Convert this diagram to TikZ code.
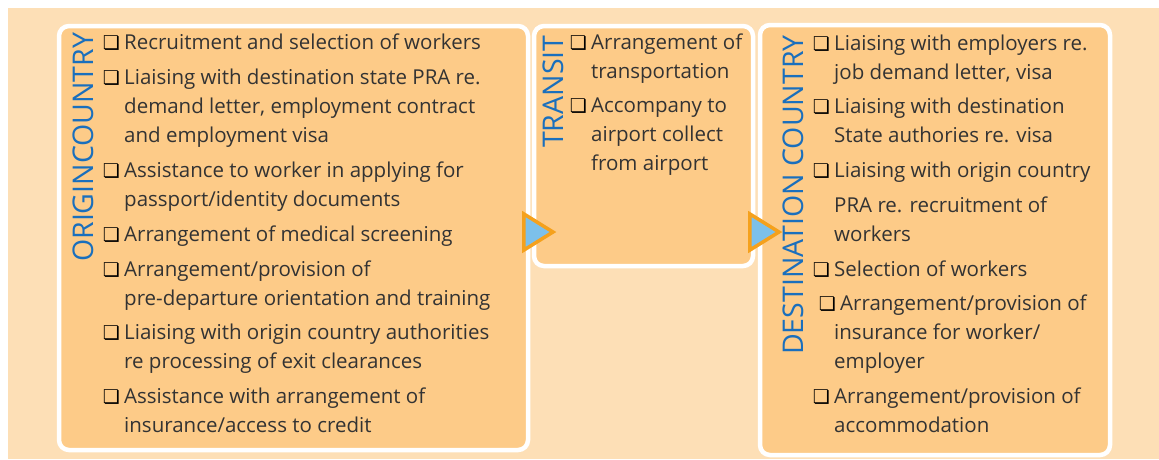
\documentclass[tikz,border=0pt]{standalone}
\usepackage{fontspec}
\setmainfont{Open Sans}
\newfontfamily\glyphfont{DejaVu Sans}
\usetikzlibrary{shapes.geometric}
\definecolor{pagepeach}{HTML}{FDDFB6}
\definecolor{panelfill}{HTML}{FDCB88}
\definecolor{titleblue}{HTML}{1A6FBD}
\definecolor{arrowblue}{HTML}{7CC0EA}
\definecolor{arroworange}{HTML}{F5A11C}
\definecolor{itemgray}{HTML}{333333}
\newcommand{\tickbox}{{\glyphfont\fontsize{19}{19}\selectfont ❏}}
\newcommand{\stacked}[1]{\begin{tabular}[t]{@{}l@{}}#1\end{tabular}}

\begin{document}
\begin{tikzpicture}[x=1pt,y=-1pt,
	panel/.style={draw=white,line width=4.5pt,fill=panelfill,rounded corners=10pt,inner sep=0pt},
	title/.style={text=titleblue,rotate=90,anchor=west,inner sep=0pt,font=\fontsize{28.5}{28.5}\selectfont},
	entry/.style={anchor=base west,inner sep=0pt,text=itemgray,font=\fontsize{20.5}{29}\selectfont},
	tick/.style={anchor=base east,inner sep=0pt,text=black},
	pointer/.style={isosceles triangle,isosceles triangle stretches,draw=arroworange,fill=arrowblue,line width=3.5pt,minimum width=36pt,minimum height=29pt,inner sep=0pt}]
	\useasboundingbox (0,0) rectangle (1159,459);
	\fill[pagepeach] (8,8) rectangle (1159,459);

	% the three stages
	\node[panel,minimum width=469pt,minimum height=424pt] (origin) at (293.5,238) {};
	\node[panel,minimum width=219pt,minimum height=240pt] (transit) at (643.5,146) {};
	\node[panel,minimum width=350pt,minimum height=430pt] (dest) at (935,240) {};

	\node[pointer] (p1) at (534,232) {};
	\node[pointer] (p2) at (760,232) {};

	\node[title] (ttlorigin) at (83,262) {ORIGINCOUNTRY};
	\node[title] (ttltransit) at (553,148) {TRANSIT};
	\node[title] (ttldest) at (793,355) {DESTINATION COUNTRY};

	% origin country
	\node[entry] (o1) at (124,49) {\stacked{Recruitment and selection of workers}};
	\node[entry] (o2) at (124,84) {\stacked{Liaising with destination state PRA re.\\demand letter, employment contract\\and employment visa}};
	\node[entry] (o3) at (124,177) {\stacked{Assistance to worker in applying for\\passport/identity documents}};
	\node[entry] (o4) at (124,241) {\stacked{Arrangement of medical screening}};
	\node[entry] (o5) at (124,276) {\stacked{Arrangement/provision of\\pre-departure orientation and training}};
	\node[entry] (o6) at (124,339) {\stacked{Liaising with origin country authorities\\re processing of exit clearances}};
	\node[entry] (o7) at (124,403) {\stacked{Assistance with arrangement of\\insurance/access to credit}};
	\foreach \n in {o1,o2,o3,o4,o5,o6,o7}
		\node[tick] (\n box) at ([xshift=-4pt]\n.base west) {\tickbox};

	% transit
	\node[entry] (t1) at (591,49) {\stacked{Arrangement of\\transportation}};
	\node[entry] (t2) at (591,112) {\stacked{Accompany to\\airport collect\\from airport}};
	\foreach \n in {t1,t2}
		\node[tick] (\n box) at ([xshift=-4pt]\n.base west) {\tickbox};

	% destination country
	\node[entry] (d1) at (834,50) {\stacked{Liaising with employers re.\\job demand letter, visa}};
	\node[entry] (d2) at (834,113) {\stacked{Liaising with destination\\State authories re. visa}};
	\node[entry] (d3) at (834,177) {\stacked{Liaising with origin country\\[6pt]PRA re. recruitment of\\workers}};
	\node[entry] (d4) at (834,276) {\stacked{Selection of workers}};
	\node[entry] (d5) at (834,310) {\stacked{\hspace{6pt}Arrangement/provision of\\insurance for worker/\\employer}};
	\node[entry] (d6) at (834,403) {\stacked{Arrangement/provision of\\accommodation}};
	\foreach \n in {d1,d2,d3,d4,d6}
		\node[tick] (\n box) at ([xshift=-4pt]\n.base west) {\tickbox};
	\node[tick] (d5box) at ([xshift=2pt]d5.base west) {\tickbox};
\end{tikzpicture}
\end{document}
